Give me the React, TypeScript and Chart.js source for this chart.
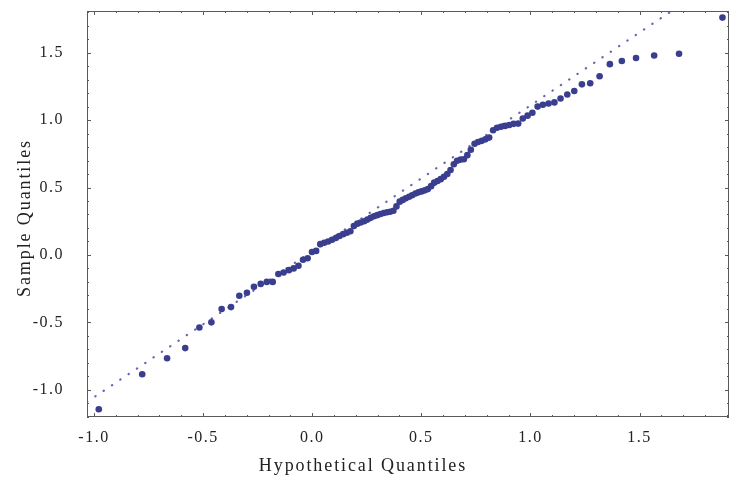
import React, { useEffect, useRef } from 'react';
import { Chart, registerables } from 'chart.js';

Chart.register(...registerables);

// Hypothetical (theoretical) quantiles
const hypothetical = [
  -0.978, -0.779, -0.665, -0.582, -0.517, -0.462, -0.415, -0.372, -0.334, -0.299,
  -0.267, -0.236, -0.208, -0.181, -0.155, -0.131, -0.107, -0.085, -0.063, -0.042,
  -0.021, -0.001, 0.018, 0.037, 0.055, 0.073, 0.091, 0.108, 0.125, 0.142,
  0.159, 0.175, 0.191, 0.207, 0.222, 0.238, 0.253, 0.268, 0.283, 0.298,
  0.313, 0.328, 0.343, 0.357, 0.372, 0.386, 0.401, 0.415, 0.429, 0.444,
  0.458, 0.473, 0.487, 0.501, 0.516, 0.530, 0.545, 0.559, 0.574, 0.589,
  0.604, 0.619, 0.634, 0.649, 0.664, 0.680, 0.695, 0.711, 0.727, 0.744,
  0.760, 0.777, 0.794, 0.811, 0.829, 0.847, 0.865, 0.884, 0.903, 0.923,
  0.944, 0.965, 0.987, 1.009, 1.033, 1.057, 1.083, 1.110, 1.138, 1.169,
  1.201, 1.236, 1.274, 1.317, 1.364, 1.419, 1.484, 1.567, 1.681, 1.880,
];

// Sample quantiles
const sample = [
  -1.145, -0.885, -0.766, -0.691, -0.538, -0.500, -0.401, -0.387, -0.303, -0.280,
  -0.236, -0.215, -0.200, -0.200, -0.142, -0.130, -0.113, -0.100, -0.080, -0.036,
  -0.025, 0.022, 0.030, 0.080, 0.090, 0.100, 0.113, 0.126, 0.140, 0.154,
  0.165, 0.176, 0.215, 0.232, 0.240, 0.250, 0.262, 0.275, 0.287, 0.295,
  0.303, 0.311, 0.316, 0.320, 0.328, 0.360, 0.395, 0.408, 0.420, 0.431,
  0.442, 0.455, 0.464, 0.471, 0.479, 0.488, 0.510, 0.536, 0.548, 0.562,
  0.580, 0.600, 0.630, 0.672, 0.698, 0.707, 0.710, 0.740, 0.780, 0.825,
  0.837, 0.846, 0.857, 0.870, 0.925, 0.943, 0.951, 0.957, 0.963, 0.972,
  0.974, 1.012, 1.033, 1.054, 1.100, 1.114, 1.123, 1.131, 1.160, 1.190,
  1.216, 1.265, 1.273, 1.325, 1.415, 1.438, 1.460, 1.479, 1.492, 1.760,
];

// Reference (dotted) line end points
const refLineX = [-1.032, 1.647];
const refLineY = [-1.09, 1.809];

const xTickValues = [-1.0, -0.5, 0.0, 0.5, 1.0, 1.5];
const yTickValues = [-1.0, -0.5, 0.0, 0.5, 1.0, 1.5];
const xRange = [-1.032, 1.91];
const yRange = [-1.202, 1.809];

const xTitle = 'Hypothetical Quantiles';
const yTitle = 'Sample Quantiles';

const FRAME = '#5a5a5a';
const SERIF = '"Liberation Serif", "Times New Roman", serif';

// plot box edges inside the canvas
const BOX = { left: 87, right: 729, top: 11, bottom: 417 };

const framePlugin = {
  id: 'frameTicks',
  afterLayout(chart: any) {
    const a = chart.chartArea;
    a.left = BOX.left;
    a.right = BOX.right;
    a.top = BOX.top;
    a.bottom = BOX.bottom;
    a.width = a.right - a.left;
    a.height = a.bottom - a.top;
    const xs = chart.scales.x;
    const ys = chart.scales.y;
    xs.left = BOX.left;
    xs.right = BOX.right;
    xs.width = BOX.right - BOX.left;
    xs.top = BOX.bottom;
    xs.configure();
    ys.top = BOX.top;
    ys.bottom = BOX.bottom;
    ys.height = BOX.bottom - BOX.top;
    ys.right = BOX.left;
    ys.configure();
  },
  beforeDraw(chart: any) {
    (chart.ctx as any).letterSpacing = '1.5px';
  },
  afterDatasetsDraw(chart: any) {
    const { ctx, chartArea: a, scales } = chart;
    const xs = scales.x;
    const ys = scales.y;
    ctx.save();
    ctx.strokeStyle = FRAME;
    ctx.lineWidth = 1;
    ctx.strokeRect(a.left + 0.5, a.top + 0.5, a.right - a.left - 1, a.bottom - a.top - 1);
    ctx.beginPath();
    const step = 0.1;
    for (let k = Math.ceil(xs.min / step); k * step <= xs.max; k++) {
      const v = k * step;
      const major = Math.abs(Math.round(v * 2) - v * 2) < 1e-6;
      const len = major ? 4 : 2;
      const px = Math.round(xs.getPixelForValue(v)) + 0.5;
      ctx.moveTo(px, a.bottom);
      ctx.lineTo(px, a.bottom - len);
      ctx.moveTo(px, a.top);
      ctx.lineTo(px, a.top + len);
    }
    for (let k = Math.ceil(ys.min / step); k * step <= ys.max; k++) {
      const v = k * step;
      const major = Math.abs(Math.round(v * 2) - v * 2) < 1e-6;
      const len = major ? 4 : 2;
      const py = Math.round(ys.getPixelForValue(v)) + 0.5;
      ctx.moveTo(a.left, py);
      ctx.lineTo(a.left + len, py);
      ctx.moveTo(a.right, py);
      ctx.lineTo(a.right - len, py);
    }
    ctx.stroke();
    ctx.restore();
  },
  afterDraw(chart: any) {
    const { ctx, chartArea: a } = chart;
    ctx.save();
    (ctx as any).letterSpacing = '1.9px';
    ctx.fillStyle = '#222';
    ctx.font = `18px ${SERIF}`;
    ctx.textAlign = 'center';
    ctx.textBaseline = 'middle';
    ctx.fillText(xTitle, a.left + 276, a.bottom + 49);
    ctx.translate(25, (a.top + a.bottom) / 2 + 4);
    ctx.rotate(-Math.PI / 2);
    ctx.fillText(yTitle, 0, 0);
    ctx.restore();
  },
};

export default function App() {
  const canvasRef = useRef<HTMLCanvasElement | null>(null);

  useEffect(() => {
    if (!canvasRef.current) return;
    const points = hypothetical.map((x, i) => ({ x, y: sample[i] }));
    const refPoints = refLineX.map((x, i) => ({ x, y: refLineY[i] }));
    const chart = new Chart(canvasRef.current, {
      type: 'scatter',
      data: {
        datasets: [
          {
            type: 'line',
            data: refPoints,
            borderColor: 'rgb(105,100,175)',
            borderWidth: 2.2,
            borderDash: [0.3, 9.7],
            borderCapStyle: 'round',
            pointRadius: 0,
            fill: false,
            order: 2,
          } as any,
          {
            data: points,
            backgroundColor: 'rgb(58,62,142)',
            borderWidth: 0,
            pointRadius: 3.3,
            order: 1,
          },
        ],
      },
      options: {
        animation: false,
        responsive: false,
        maintainAspectRatio: false,
        devicePixelRatio: 1,
        layout: { padding: { top: 11, right: 1, left: 0, bottom: 0 } },
        plugins: { legend: { display: false }, tooltip: { enabled: false } },
        scales: {
          x: {
            type: 'linear',
            min: xRange[0],
            max: xRange[1],
            grid: { display: false, drawTicks: false },
            border: { display: false },
            afterBuildTicks: (s: any) => {
              s.ticks = xTickValues.map((value) => ({ value }));
            },
            afterFit: (s: any) => {
              s.height = 65;
              s.paddingLeft = 0;
              s.paddingRight = 0;
            },
            ticks: {
              autoSkip: false,
              maxRotation: 0,
              padding: 11,
              color: '#222',
              font: { family: SERIF, size: 16 },
              callback: (v: any) => Number(v).toFixed(1),
            },
          },
          y: {
            type: 'linear',
            min: yRange[0],
            max: yRange[1],
            grid: { display: false, drawTicks: false },
            border: { display: false },
            afterBuildTicks: (s: any) => {
              s.ticks = yTickValues.map((value) => ({ value }));
            },
            afterFit: (s: any) => {
              s.width = 87;
              s.paddingTop = 0;
              s.paddingBottom = 0;
            },
            ticks: {
              autoSkip: false,
              padding: 23,
              color: '#222',
              font: { family: SERIF, size: 16 },
              callback: (v: any) => Number(v).toFixed(1),
            },
          },
        },
      },
      plugins: [framePlugin],
    });
    return () => chart.destroy();
  }, []);

  return (
    <div style={{ position: 'fixed', left: 0, top: 0, width: 730, height: 482, background: '#fff' }}>
      <canvas ref={canvasRef} width={730} height={482} style={{ display: 'block' }} />
    </div>
  );
}
